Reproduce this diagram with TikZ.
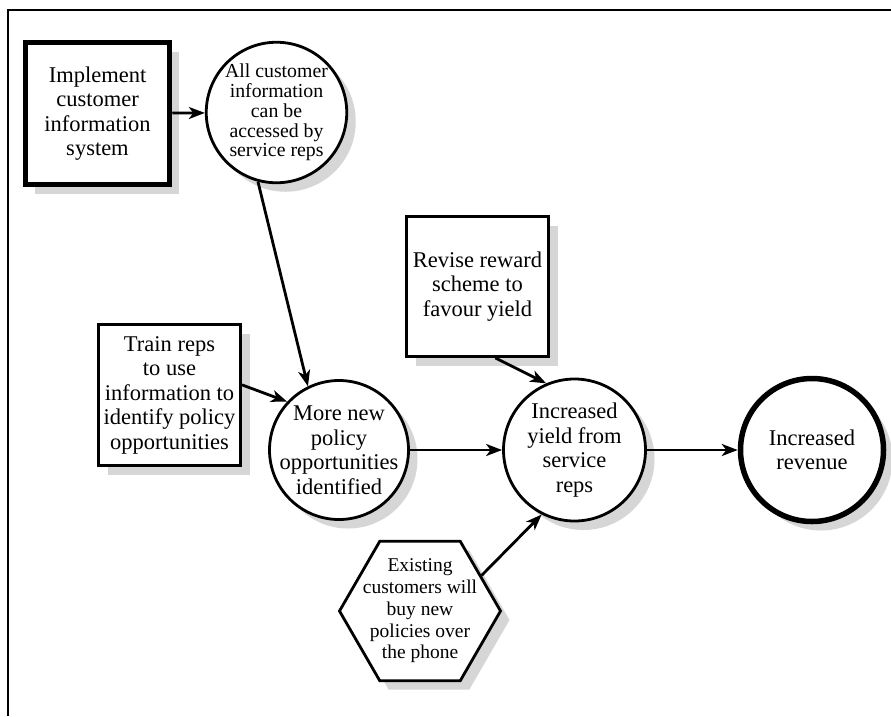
\documentclass[tikz,border=0pt]{standalone}
\usepackage{fontspec}
\setmainfont{Liberation Serif}
\usetikzlibrary{arrows.meta,shapes.geometric,shadows}
\definecolor{shadowgray}{HTML}{D6D6D6}
\tikzset{
  shapebase/.style={draw, fill=white, line width=2.8pt, inner sep=0pt,
    general shadow={fill=shadowgray, shadow xshift=9pt, shadow yshift=-9pt}},
  boxnode/.style={shapebase, rectangle, minimum width=142pt, minimum height=141pt},
  circnode/.style={shapebase, circle, minimum size=#1},
  hexnode/.style={shapebase, regular polygon, regular polygon sides=6, minimum size=161pt},
  heavy/.style={line width=5.5pt},
  label text/.style={align=center, inner sep=0pt, font=\fontsize{22.5}{24.5}\selectfont},
  small text/.style={align=center, inner sep=0pt, font=\fontsize{19.8}{19.8}\selectfont},
  hex text/.style={align=center, inner sep=0pt, font=\fontsize{19.5}{21.7}\selectfont},
  conn/.style={line width=2.8pt, -{Stealth[length=16pt,width=12pt,inset=4.5pt]}},
  frame/.style={line width=1.8pt}
}
\begin{document}
\begin{tikzpicture}[x=1pt,y=-1pt]
\useasboundingbox (0,0) rectangle (891,716);
\fill[white] (0,0) rectangle (891,716);

% open frame: top and left edges only
\coordinate (fbl) at (8,716);
\coordinate (ftl) at (8,10);
\coordinate (ftr) at (891,10);
\draw[frame] (fbl) -- (ftl) -- (ftr);

% shapes
\node[boxnode, heavy, minimum width=144pt, minimum height=142pt] (box1) at (97.5,113.5) {};
\node[circnode=140.5pt] (circ1) at (276.5,112.5) {};
\node[boxnode] (train) at (169.5,395) {};
\node[circnode=139pt] (more) at (339,450) {};
\node[boxnode, minimum height=140pt] (revise) at (477.5,286.5) {};
\node[circnode=142pt] (yield) at (574.5,450) {};
\node[circnode=143pt, heavy] (revenue) at (812,450) {};
\node[hexnode] (hex) at (420,611) {};

% texts
\node[label text] (box1-t) at (box1) {Implement\\customer\\information\\system};
\node[small text] (circ1-t) at (circ1) {All customer\\information\\can be\\accessed by\\service reps};
\node[label text] (train-t) at (train) {Train reps\\to use\\information to\\identify policy\\opportunities};
\node[label text] (more-t) at (more) {More new\\policy\\opportunities\\identified};
\node[label text] (revise-t) at (revise) {Revise reward\\scheme to\\favour yield};
\node[label text] (yield-t) at (yield) {Increased\\yield from\\service\\reps};
\node[label text] (revenue-t) at (revenue) {Increased\\revenue};
\node[hex text] (hex-t) at (hex) {Existing\\customers will\\buy new\\policies over\\the phone};

% connectors
\draw[conn] (box1) -- (circ1);
\draw[conn] (circ1.255) -- (more.116);
\draw[conn] (train.8) -- (more.137);
\draw[conn] (revise.-76) -- (yield.113);
\draw[conn] (more) -- (yield);
\draw[conn] (hex.30) -- (yield.243);
\draw[conn] (yield) -- (revenue);
\end{tikzpicture}
\end{document}
